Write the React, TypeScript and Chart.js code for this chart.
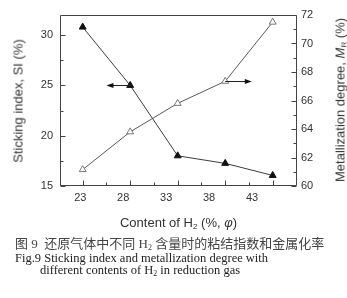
import React, { useEffect, useRef } from "react";
import { Chart, registerables } from "chart.js";
Chart.register(...registerables);

// ---- data ----
const xValues = [23, 28, 33, 38, 43];
const xTickLabels = ["23", "28", "33", "38", "43"];
const stickingIndex = [30.8, 25.0, 18.0, 17.25, 16.05];
const metallization = [61.15, 63.8, 65.8, 67.35, 71.5];
const leftTickValues = [15, 20, 25, 30];
const rightTickValues = [60, 62, 64, 66, 68, 70, 72];
// arrows pointing to the axis each series belongs to (data units)
const arrowSI = { fromX: 28, toX: 25.5, y: 25, axis: "y" };
const arrowMR = { fromX: 38, toX: 40.8, y: 67.36, axis: "y2" };

const W = 347;
const H = 298;
const CH = 235;
const TEXT = "#333";

const framePlugin = {
  id: "frameTicks",
  afterDatasetsDraw(chart: any) {
    const { ctx, chartArea, scales } = chart;
    const { left, right, top, bottom } = chartArea;
    ctx.save();
    ctx.strokeStyle = "#444";
    ctx.lineWidth = 1;
    const L = Math.round(left) + 0.5;
    const R = Math.round(right) - 0.5;
    const T = Math.round(top) + 0.5;
    const B = Math.round(bottom) - 0.5;
    ctx.beginPath();
    ctx.rect(L, T, R - L, B - T);
    ctx.stroke();
    ctx.beginPath();
    // left axis ticks (inward)
    const ys = scales.y;
    for (let v = ys.min; v <= ys.max + 1e-6; v += 2.5) {
      const py = Math.round(ys.getPixelForValue(v)) + 0.5;
      const len = Math.abs(v % 5) < 1e-6 ? 5 : 3;
      ctx.moveTo(L, py);
      ctx.lineTo(L + len, py);
    }
    // right axis ticks (inward)
    const y2 = scales.y2;
    for (let v = y2.min; v <= y2.max + 1e-6; v += 1) {
      const py = Math.round(y2.getPixelForValue(v)) + 0.5;
      const len = Math.abs(v % 2) < 1e-6 ? 5 : 3;
      ctx.moveTo(R, py);
      ctx.lineTo(R - len, py);
    }
    // bottom ticks (inward)
    const xs = scales.x;
    for (let v = xValues[0]; v <= xValues[xValues.length - 1] + 1e-6; v += 2.5) {
      const px = Math.round(xs.getPixelForValue(v)) + 0.5;
      const len = Math.abs((v - xValues[0]) % 5) < 1e-6 ? 5 : 3;
      ctx.moveTo(px, B);
      ctx.lineTo(px, B - len);
    }
    ctx.stroke();

    // arrows
    const drawArrow = (a: any) => {
      const sy = scales[a.axis];
      const py = Math.round(sy.getPixelForValue(a.y)) + 0.5;
      const x0 = xs.getPixelForValue(a.fromX);
      const x1 = xs.getPixelForValue(a.toX);
      const dir = x1 > x0 ? 1 : -1;
      ctx.strokeStyle = "#222";
      ctx.fillStyle = "#111";
      ctx.beginPath();
      ctx.moveTo(x0, py);
      ctx.lineTo(x1 - dir * 4, py);
      ctx.stroke();
      ctx.beginPath();
      ctx.moveTo(x1, py);
      ctx.lineTo(x1 - dir * 7, py - 2.5);
      ctx.lineTo(x1 - dir * 7, py + 2.5);
      ctx.closePath();
      ctx.fill();
    };
    drawArrow(arrowSI);
    drawArrow(arrowMR);
    ctx.restore();
  },
};

export default function App() {
  const ref = useRef<HTMLCanvasElement | null>(null);
  useEffect(() => {
    if (!ref.current) return;
    const tickFont = { family: "'Liberation Sans', Arial, sans-serif", size: 11 };
    const chart = new Chart(ref.current, {
      type: "line",
      data: {
        datasets: [
          {
            label: "Sticking index",
            data: xValues.map((x, i) => ({ x, y: stickingIndex[i] })),
            xAxisID: "x",
            yAxisID: "y",
            borderColor: "#3c3c3c",
            borderWidth: 1,
            pointStyle: "triangle",
            pointRadius: 4,
            pointBackgroundColor: "#111",
            pointBorderColor: "#111",
            pointBorderWidth: 1,
            tension: 0,
          },
          {
            label: "Metallization degree",
            data: xValues.map((x, i) => ({ x, y: metallization[i] })),
            xAxisID: "x",
            yAxisID: "y2",
            borderColor: "#5a5a5a",
            borderWidth: 1,
            pointStyle: "triangle",
            pointRadius: 4,
            pointBackgroundColor: "#fff",
            pointBorderColor: "#777",
            pointBorderWidth: 1,
            tension: 0,
          },
        ],
      },
      options: {
        responsive: false,
        animation: false,
        devicePixelRatio: 1,
        layout: { padding: { top: 15, left: 0, right: 0, bottom: 0 } },
        plugins: { legend: { display: false }, tooltip: { enabled: false } },
        scales: {
          x: {
            type: "linear",
            display: false,
            min: 20.61,
            max: 45.56,
          },
          xl: {
            type: "linear",
            position: "bottom",
            min: 20.64,
            max: 48.24,
            grid: { display: false, drawTicks: false },
            border: { display: false },
            afterBuildTicks: (axis: any) => {
              axis.ticks = xValues.map((v) => ({ value: v }));
            },
            ticks: {
              padding: 5,
              color: TEXT,
              font: tickFont,
              maxRotation: 0,
              autoSkip: false,
              callback: (_v: any, i: number) => xTickLabels[i],
            },
            afterFit: (s: any) => {
              s.height = CH - 186;
            },
          },
          y: {
            type: "linear",
            position: "left",
            min: 15,
            max: 32,
            grid: { display: false, drawTicks: false },
            border: { display: false },
            afterBuildTicks: (axis: any) => {
              axis.ticks = leftTickValues.map((v) => ({ value: v }));
            },
            ticks: { padding: 7, color: TEXT, font: tickFont, autoSkip: false },
            afterFit: (s: any) => {
              s.width = 60;
            },
          },
          y2: {
            type: "linear",
            position: "right",
            min: 60,
            max: 72,
            grid: { display: false, drawTicks: false },
            border: { display: false },
            afterBuildTicks: (axis: any) => {
              axis.ticks = rightTickValues.map((v) => ({ value: v }));
            },
            ticks: { padding: 4, color: TEXT, font: tickFont, autoSkip: false },
            afterFit: (s: any) => {
              s.width = W - 297;
            },
          },
        },
      },
      plugins: [framePlugin],
    } as any);
    return () => chart.destroy();
  }, []);

  const sans = "'Liberation Sans', Arial, sans-serif";
  const serif = "'Liberation Serif', 'Times New Roman', 'Noto Sans CJK SC', serif";
  const rot: React.CSSProperties = {
    position: "absolute",
    transform: "translate(-50%, -50%) rotate(-90deg)",
    whiteSpace: "nowrap",
    fontFamily: sans,
    fontSize: 13,
    color: TEXT,
    lineHeight: 1,
  };
  const subStyle: React.CSSProperties = { fontSize: "0.62em", verticalAlign: "-0.25em", lineHeight: 0 };
  return (
    <div style={{ position: "fixed", left: 0, top: 0, width: W, height: H, background: "#fff", overflow: "hidden" }}>
      <canvas ref={ref} width={W} height={CH} style={{ position: "absolute", left: 0, top: 0, width: W, height: CH }} />
      <div style={{ ...rot, left: 18, top: 100.5 }}>Sticking index, SI (%)</div>
      <div style={{ ...rot, left: 340, top: 99.5 }}>
        Metallization degree, <i>M</i>
        <span style={subStyle}>R</span> (%)
      </div>
      <div
        style={{
          position: "absolute",
          left: 178.5,
          top: 222,
          transform: "translate(-50%, -50%)",
          whiteSpace: "nowrap",
          fontFamily: sans,
          fontSize: 13,
          color: TEXT,
          lineHeight: 1,
        }}
      >
        Content of H<span style={subStyle}>2</span> (%, <i>φ</i>)
      </div>
      <div style={{ position: "absolute", left: 15, top: 237, whiteSpace: "nowrap", fontFamily: serif, fontSize: 13, color: "#444", lineHeight: "14px" }}>
        图 9&nbsp; 还原气体中不同 H<span style={subStyle}>2</span> 含量时的粘结指数和金属化率
      </div>
      <div style={{ position: "absolute", left: 15, top: 252, whiteSpace: "nowrap", fontFamily: serif, fontSize: 12.5, color: "#222", lineHeight: "12px" }}>
        Fig.9 Sticking index and metallization degree with
      </div>
      <div style={{ position: "absolute", left: 40, top: 264, whiteSpace: "nowrap", fontFamily: serif, fontSize: 12.5, color: "#222", lineHeight: "12px" }}>
        different contents of H<span style={subStyle}>2</span> in reduction gas
      </div>
    </div>
  );
}
